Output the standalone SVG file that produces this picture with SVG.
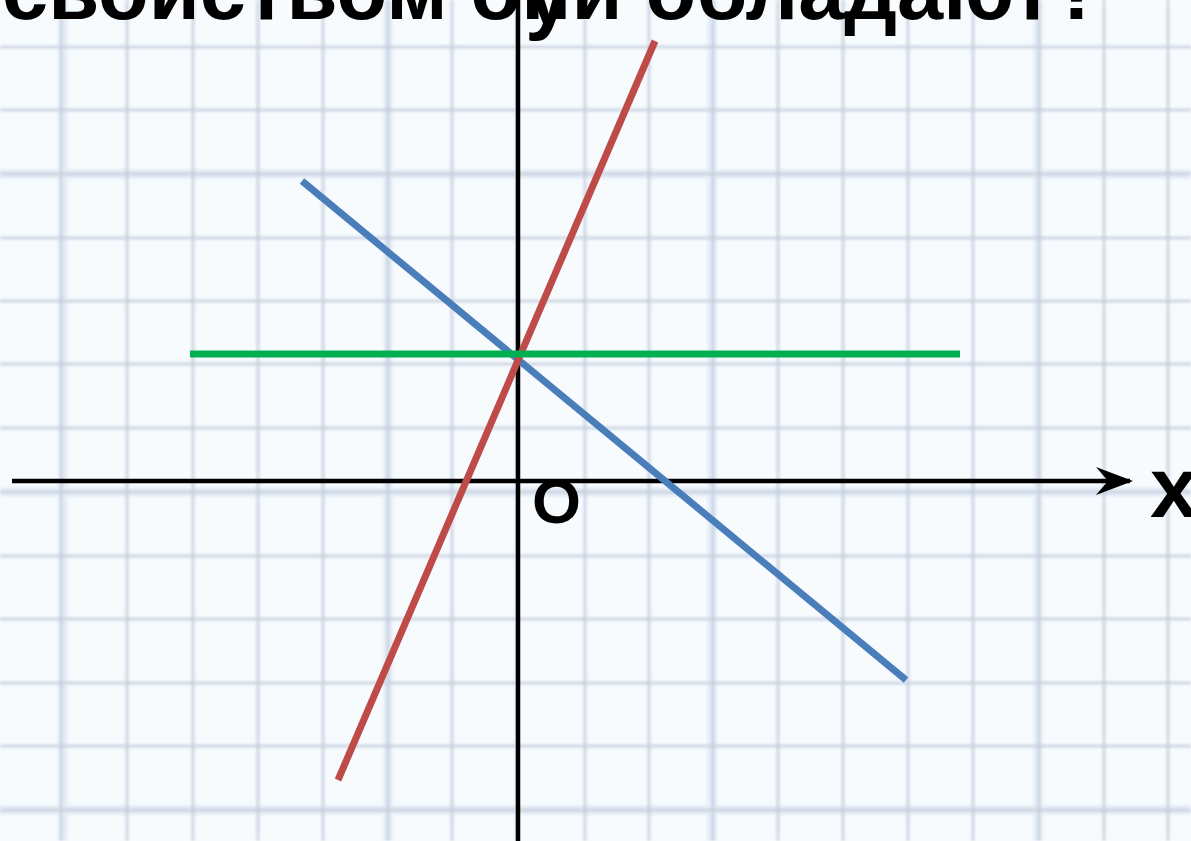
<svg xmlns="http://www.w3.org/2000/svg" width="1191" height="841" viewBox="0 0 1191 841">
  <defs>
    <style>
      .txt { font-family: "Liberation Sans", Arial, sans-serif; font-weight: bold; fill: #000; }
      .gmaj { stroke: #c3cddb; stroke-width: 2.5; }
      .ghalo { stroke: #e4ecf6; stroke-width: 9; }
      .axis { stroke: #000; stroke-width: 4.5; fill: none; }
      .ln { stroke-width: 7; fill: none; }
    </style>
    <filter id="blur" x="-5%" y="-5%" width="110%" height="110%">
      <feGaussianBlur stdDeviation="1.8"/>
    </filter>
    <marker id="arrow" viewBox="0 0 40 30" refX="37" refY="15" markerWidth="40" markerHeight="30" markerUnits="userSpaceOnUse" orient="auto">
      <path d="M40,15 L3,1 L15,15 L3,29 Z" fill="#000"/>
    </marker>
  </defs>

  <rect x="0" y="0" width="1191" height="841" fill="#f7fbfe"/>

  <g id="grid" filter="url(#blur)">
    <g class="ghalo">
      <line x1="63" y1="0" x2="63" y2="841"/>
      <line x1="388" y1="0" x2="388" y2="841"/>
      <line x1="712" y1="0" x2="712" y2="841"/>
      <line x1="1038" y1="0" x2="1038" y2="841"/>
      <line x1="0" y1="174" x2="1191" y2="174"/>
      <line x1="0" y1="492" x2="1191" y2="492"/>
      <line x1="0" y1="810" x2="1191" y2="810"/>
    </g>
    <g class="gmaj">
      <line x1="61" y1="0" x2="61" y2="841"/>
      <line x1="127" y1="0" x2="127" y2="841"/>
      <line x1="193" y1="0" x2="193" y2="841"/>
      <line x1="258" y1="0" x2="258" y2="841"/>
      <line x1="323" y1="0" x2="323" y2="841"/>
      <line x1="388" y1="0" x2="388" y2="841"/>
      <line x1="452" y1="0" x2="452" y2="841"/>
      <line x1="517" y1="0" x2="517" y2="841"/>
      <line x1="585" y1="0" x2="585" y2="841"/>
      <line x1="649" y1="0" x2="649" y2="841"/>
      <line x1="713" y1="0" x2="713" y2="841"/>
      <line x1="778" y1="0" x2="778" y2="841"/>
      <line x1="843" y1="0" x2="843" y2="841"/>
      <line x1="908" y1="0" x2="908" y2="841"/>
      <line x1="973" y1="0" x2="973" y2="841"/>
      <line x1="1039" y1="0" x2="1039" y2="841"/>
      <line x1="1104" y1="0" x2="1104" y2="841"/>
      <line x1="1168" y1="0" x2="1168" y2="841"/>
      <line x1="0" y1="47" x2="1191" y2="47"/>
      <line x1="0" y1="110" x2="1191" y2="110"/>
      <line x1="0" y1="174" x2="1191" y2="174"/>
      <line x1="0" y1="238" x2="1191" y2="238"/>
      <line x1="0" y1="301" x2="1191" y2="301"/>
      <line x1="0" y1="364" x2="1191" y2="364"/>
      <line x1="0" y1="428" x2="1191" y2="428"/>
      <line x1="0" y1="492" x2="1191" y2="492"/>
      <line x1="0" y1="556" x2="1191" y2="556"/>
      <line x1="0" y1="619" x2="1191" y2="619"/>
      <line x1="0" y1="683" x2="1191" y2="683"/>
      <line x1="0" y1="746" x2="1191" y2="746"/>
      <line x1="0" y1="810" x2="1191" y2="810"/>
    </g>
  </g>

  <g id="connectors">
    <line id="y-axis" class="axis" x1="518" y1="0" x2="518" y2="841"/>
    <line id="x-axis" class="axis" x1="12" y1="481" x2="1130" y2="481" marker-end="url(#arrow)"/>
    <line id="line-blue" class="ln" stroke="#4a7ebb" x1="302" y1="181" x2="906" y2="680"/>
    <line id="line-red" class="ln" stroke="#be4b48" x1="655" y1="41" x2="338" y2="780"/>
    <line id="line-green" class="ln" stroke="#00b050" x1="190" y1="354" x2="960" y2="354"/>
  </g>

  <g id="title">
    <text class="txt" x="2" y="19" font-size="83">свойством они обладают?</text>
  </g>
  <g id="label-y">
    <text class="txt" x="525" y="24" font-size="83">y</text>
  </g>
  <g id="label-o">
    <text class="txt" x="532" y="523" font-size="63">O</text>
  </g>
  <g id="label-x">
    <text class="txt" x="1150" y="517" font-size="86">x</text>
  </g>
</svg>
